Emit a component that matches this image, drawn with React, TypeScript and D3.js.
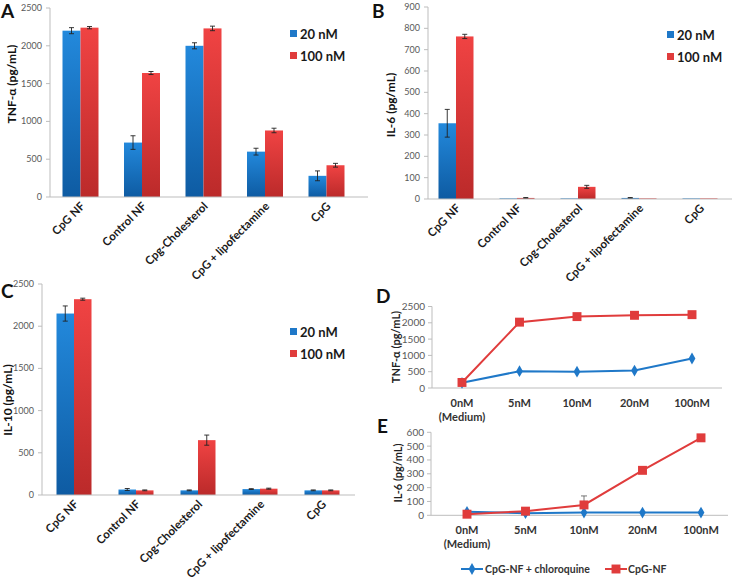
import React from "react";
import * as d3 from "d3";

const categories = ["CpG NF", "Control NF", "Cpg-Cholesterol", "CpG + lipofectamine", "CpG"];

// panel A: TNF-a
const tnf20 = [2200, 720, 2000, 600, 280];
const tnf20Err = [40, 90, 40, 45, 65];
const tnf100 = [2240, 1640, 2230, 880, 420];
const tnf100Err = [15, 20, 30, 30, 25];

// panel B: IL-6
const il6_20 = [355, 3, 3, 5, 3];
const il6_20Err = [65, 0, 0, 2, 0];
const il6_100 = [762, 5, 57, 3, 3];
const il6_100Err = [10, 2, 7, 0, 0];

// panel C: IL-10
const il10_20 = [2150, 65, 55, 70, 55];
const il10_20Err = [90, 12, 5, 5, 5];
const il10_100 = [2320, 55, 650, 75, 55];
const il10_100Err = [12, 5, 60, 6, 5];

// panels D, E: dose response
const doses = ["0nM", "5nM", "10nM", "20nM", "100nM"];
const tnfChloro = [160, 515, 500, 535, 905];
const tnfNF = [170, 2020, 2190, 2230, 2250];
const il6Chloro = [25, 15, 20, 20, 20];
const il6NF = [8, 30, 75, 325, 560];
const il6NFErr = [0, 0, 65, 22, 0];

const font = "Lato, 'Open Sans', sans-serif";
const axisColor = "#bdbdbd";
const tickColor = "#595959";
const blue = "#1f78c8";
const red = "#e03c3c";

function BarPanel(props) {
  const { id, letter, letterX, letterY, yLabel, yLabelX, yLabelY, axisX, top, bottom, max, step,
    firstCenter, band, barW, lineEnd, legendX, legendY, s20, e20, s100, e100 } = props;
  const y = d3.scaleLinear().domain([0, max]).range([bottom, top]);
  const x = d3.scaleBand().domain(categories).range([firstCenter - band / 2, firstCenter - band / 2 + band * categories.length]);
  const ticks = d3.range(0, max + 1, step);
  const errBar = (cx, v, e, key) => e > 0 ? (
    <g key={key} stroke="#222" strokeWidth={0.9}>
      <line x1={cx} x2={cx} y1={y(v + e)} y2={y(v - e)} />
      <line x1={cx - 2.5} x2={cx + 2.5} y1={y(v + e)} y2={y(v + e)} />
      <line x1={cx - 2.5} x2={cx + 2.5} y1={y(v - e)} y2={y(v - e)} />
    </g>
  ) : null;
  return (
    <g>
      <text x={letterX} y={letterY} fontFamily={font} fontWeight="bold" fontSize={19} fill="#111">{letter}</text>
      {ticks.map(t => (
        <g key={t}>
          <line x1={axisX - 4} x2={axisX} y1={y(t)} y2={y(t)} stroke={axisColor} />
          <text x={axisX - 8} y={y(t) + 3} textAnchor="end" fontFamily={font} fontSize={9} fill={tickColor}>{t}</text>
        </g>
      ))}
      <line x1={axisX} x2={axisX} y1={top} y2={bottom} stroke={axisColor} />
      <text transform={`translate(${yLabelX},${yLabelY}) rotate(-90)`} textAnchor="middle" fontFamily={font}
        fontWeight="bold" fontSize={12} fill="#111">{yLabel}</text>
      {categories.map((c, i) => {
        const cx = x(c) + x.bandwidth() / 2;
        return (
          <g key={c}>
            <rect x={cx - barW} y={y(s20[i])} width={barW} height={bottom - y(s20[i])} fill={`url(#${id}b)`} />
            <rect x={cx} y={y(s100[i])} width={barW} height={bottom - y(s100[i])} fill={`url(#${id}r)`} />
            {errBar(cx - barW / 2, s20[i], e20[i], "e1")}
            {errBar(cx + barW / 2, s100[i], e100[i], "e2")}
            <text transform={`translate(${cx + 5},${bottom + 10}) rotate(-45)`} textAnchor="end" fontFamily={font}
              fontWeight="bold" fontSize={11.5} fill="#1a1a1a">{c}</text>
          </g>
        );
      })}
      <line x1={axisX} x2={lineEnd} y1={bottom} y2={bottom} stroke={axisColor} />
      <defs>
        <linearGradient id={`${id}b`} x1="0" y1="0" x2="0" y2="1">
          <stop offset="0" stopColor="#2389dc" />
          <stop offset="1" stopColor="#0e5ba2" />
        </linearGradient>
        <linearGradient id={`${id}r`} x1="0" y1="0" x2="0" y2="1">
          <stop offset="0" stopColor="#f04343" />
          <stop offset="1" stopColor="#bb2a2a" />
        </linearGradient>
      </defs>
      <rect x={legendX} y={legendY - 4} width={7} height={7} fill={blue} />
      <text x={legendX + 10} y={legendY + 4.5} fontFamily={font} fontWeight="bold" fontSize={13} fill="#1a1a1a">20 nM</text>
      <rect x={legendX} y={legendY + 18} width={7} height={7} fill={red} />
      <text x={legendX + 10} y={legendY + 26.5} fontFamily={font} fontWeight="bold" fontSize={13} fill="#1a1a1a">100 nM</text>
    </g>
  );
}

const diamond = d3.symbol().type(d3.symbolDiamond).size(40);
const square = d3.symbol().type(d3.symbolSquare).size(80);

function LinePanel(props) {
  const { letter, letterX, letterY, yLabel, yLabelX, yLabelY, axisX, top, bottom, max, step,
    rangeL, rangeR, lineEnd, sBlue, sRed, eRed } = props;
  const y = d3.scaleLinear().domain([0, max]).range([bottom, top]);
  const x = d3.scalePoint().domain(doses).range([rangeL, rangeR]).padding(0.5);
  const ticks = d3.range(0, max + 1, step);
  const line = d3.line().x((d, i) => x(doses[i])).y(d => y(d));
  return (
    <g>
      <text x={letterX} y={letterY} fontFamily={font} fontWeight="bold" fontSize={19} fill="#111">{letter}</text>
      {ticks.map(t => (
        <g key={t}>
          <line x1={axisX - 4} x2={axisX} y1={y(t)} y2={y(t)} stroke={axisColor} />
          <text x={axisX - 7} y={y(t) + 3.5} textAnchor="end" fontFamily={font} fontSize={10} fill={tickColor}>{t}</text>
        </g>
      ))}
      <line x1={axisX} x2={axisX} y1={top} y2={bottom} stroke={axisColor} />
      <line x1={axisX} x2={lineEnd} y1={bottom} y2={bottom} stroke={axisColor} />
      <text transform={`translate(${yLabelX},${yLabelY}) rotate(-90)`} textAnchor="middle" fontFamily={font}
        fontWeight="bold" fontSize={11} fill="#222">{yLabel}</text>
      {doses.map((d, i) => (
        <text key={d} x={x(d)} y={bottom + 19} textAnchor="middle" fontFamily={font} fontWeight="bold" fontSize={11} fill="#333">
          {d}
          {i === 0 ? <tspan x={x(d)} dy={14}>(Medium)</tspan> : null}
        </text>
      ))}
      <path d={line(sBlue)} fill="none" stroke={blue} strokeWidth={2} />
      <path d={line(sRed)} fill="none" stroke={red} strokeWidth={2} />
      {eRed && doses.map((d, i) => eRed[i] > 0 ? (
        <g key={d} stroke="#555" strokeWidth={0.8}>
          <line x1={x(d)} x2={x(d)} y1={y(sRed[i] + eRed[i])} y2={y(sRed[i] - eRed[i])} />
          <line x1={x(d) - 3} x2={x(d) + 3} y1={y(sRed[i] + eRed[i])} y2={y(sRed[i] + eRed[i])} />
        </g>
      ) : null)}
      {sBlue.map((v, i) => (
        <path key={i} d={diamond()} transform={`translate(${x(doses[i])},${y(v)})`} fill={blue} />
      ))}
      {sRed.map((v, i) => (
        <path key={i} d={square()} transform={`translate(${x(doses[i])},${y(v)})`} fill={red} />
      ))}
    </g>
  );
}

export default function App() {
  return (
    <svg width={733} height={579} style={{ position: "absolute", left: 0, top: 0, background: "#fff" }}>
      <rect width={733} height={579} fill="#fff" />
      <BarPanel id="A" letter="A" letterX={1} letterY={18} yLabel="TNF-α (pg/mL)" yLabelX={16} yLabelY={84}
        axisX={50} top={8} bottom={197} max={2500} step={500} firstCenter={80.5} band={61.5} barW={18}
        lineEnd={368} legendX={290} legendY={34} s20={tnf20} e20={tnf20Err} s100={tnf100} e100={tnf100Err} />
      <BarPanel id="B" letter="B" letterX={372} letterY={18} yLabel="IL-6 (pg/mL)" yLabelX={395} yLabelY={105}
        axisX={428} top={7} bottom={199} max={900} step={100} firstCenter={456} band={61} barW={17.5}
        lineEnd={732} legendX={667} legendY={35} s20={il6_20} e20={il6_20Err} s100={il6_100} e100={il6_100Err} />
      <BarPanel id="C" letter="C" letterX={1} letterY={298} yLabel="IL-10 (pg/mL)" yLabelX={12} yLabelY={400}
        axisX={42} top={284} bottom={495} max={2500} step={500} firstCenter={74} band={62} barW={17.5}
        lineEnd={355} legendX={290} legendY={332} s20={il10_20} e20={il10_20Err} s100={il10_100} e100={il10_100Err} />
      <LinePanel letter="D" letterX={376} letterY={303} yLabel="TNF-α (pg/mL)" yLabelX={400} yLabelY={347}
        axisX={432} top={306.5} bottom={388} max={2500} step={500} rangeL={433.25} rangeR={720.75} lineEnd={722}
        sBlue={tnfChloro} sRed={tnfNF} />
      <LinePanel letter="E" letterX={377} letterY={433} yLabel="IL-6 (pg/mL)" yLabelX={402} yLabelY={473}
        axisX={431} top={432.3} bottom={515.3} max={600} step={100} rangeL={437.75} rangeR={730.25} lineEnd={728}
        sBlue={il6Chloro} sRed={il6NF} eRed={il6NFErr} />
      <g fontFamily={font} fontWeight="bold" fontSize={10.5} fill="#333">
        <line x1={461} x2={483} y1={569} y2={569} stroke={blue} strokeWidth={2} />
        <path d={diamond()} transform="translate(472,569)" fill={blue} />
        <text x={485} y={573}>CpG-NF + chloroquine</text>
        <line x1={605} x2={627} y1={569} y2={569} stroke={red} strokeWidth={2} />
        <path d={square()} transform="translate(616,569)" fill={red} />
        <text x={628} y={573}>CpG-NF</text>
      </g>
    </svg>
  );
}
